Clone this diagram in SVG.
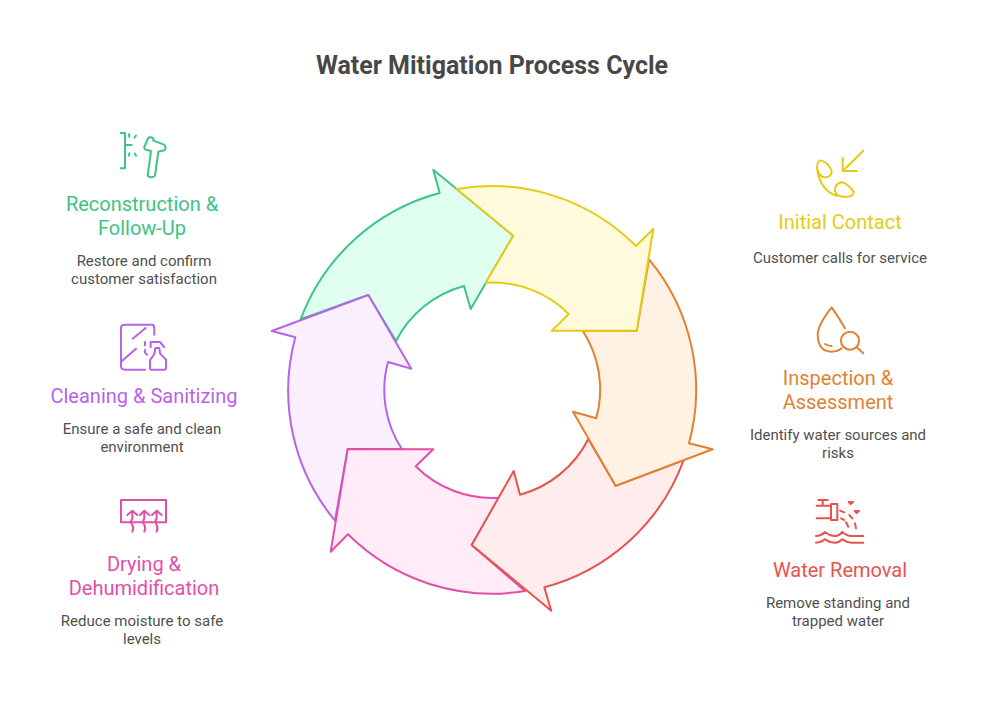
<svg xmlns="http://www.w3.org/2000/svg" width="984" height="720" viewBox="0 0 984 720">
<style>
text{font-family:Roboto,"Liberation Sans",sans-serif;text-anchor:middle}
.t{font-size:25px;font-weight:700;fill:#484848}
.h{font-size:20px;font-weight:400}
.b{font-size:15px;fill:#505050}
.a{stroke-width:2;stroke-linejoin:round}
.i{fill:none;stroke-width:6;stroke-linecap:round;stroke-linejoin:round}
.y{fill:#fffadc;stroke:#e3cc13}.yt{fill:#e3cc13}.yi{stroke:#e3cc13}
.o{fill:#fff1e4;stroke:#e2812f}.ot{fill:#e2812f}.oi{stroke:#e2812f}
.r{fill:#ffeded;stroke:#e5534f}.rt{fill:#e5534f}.ri{stroke:#e5534f}
.p{fill:#ffecf7;stroke:#e24fa8}.pt{fill:#e24fa8}.pi{stroke:#e24fa8}
.v{fill:#f9efff;stroke:#b763e8}.vt{fill:#b763e8}.vi{stroke:#b763e8}
.g{fill:#e0fff0;stroke:#3cc583}.gt{fill:#3cc583}.gi{stroke:#3cc583}
</style>
<text class="t" x="492" y="74">Water Mitigation Process Cycle</text>
<g id="connectors">
<path class="a g" d="M300.7 319.3A204 204 0 0 1 439.7 193L433.3 169.7L513.3 235.7L470.7 309L464 286A108 108 0 0 0 396 341L368.3 295Z"/>
<path class="a v" d="M335 520.7A204 204 0 0 1 295.3 337.3L271.7 331L368.3 295L411.3 368.7L388 362A108 108 0 0 0 402 449.3L347.7 449Z"/>
<path class="a p" d="M525 591A204 204 0 0 1 348 534.3L330.7 551.7L347.7 449L433.3 449.3L415.7 466.3A108 108 0 0 0 499.3 497.7L471.7 545Z"/>
<path class="a r" d="M683.7 460A204 204 0 0 1 544.3 587.3L551.3 610.7L471.7 545L513.7 471L520 494.7A108 108 0 0 0 588.3 439L615.7 485.7Z"/>
<path class="a o" d="M649 259.3A204 204 0 0 1 689 443.3L712.7 449.3L615.7 485.7L573 411.7L596.3 418.3A108 108 0 0 0 582.7 330.7L636.7 330.7Z"/>
<path class="a y" d="M456.7 189A204 204 0 0 1 636 246L653.3 229L636.7 330.7L551.7 330.7L568.7 314A108 108 0 0 0 485.7 282.7L513.3 235.7Z"/>
</g>
<g id="node-initial-contact">
<g class="i yi" transform="translate(805 145) scale(.3333)"><path d="M175 17L113 78M113 38V78H155"/><path d="M36 70Q36 45 50 47Q72 55 80 78Q80 97 60 97Q42 97 36 70Q45 135 95 153"/><path d="M90 140Q88 118 108 112Q125 112 146 140Q148 153 125 155Q98 158 90 140Z"/></g>
<text class="h yt" x="840" y="229">Initial Contact</text>
<text class="b" x="840" y="263">Customer calls for service</text>
</g>
<g id="node-inspection">
<g class="i oi" transform="translate(805 300) scale(.3333)"><path d="M120 85Q100 50 80 22Q38 75 38 105Q40 155 80 155Q98 155 110 145"/><path d="M60 132Q70 138 80 138"/><circle cx="135" cy="122" r="27"/><path d="M155 142L175 160"/></g>
<text class="h ot" x="838" y="385">Inspection &amp;</text>
<text class="h ot" x="838" y="409">Assessment</text>
<text class="b" x="838" y="440">Identify water sources and</text>
<text class="b" x="838" y="458">risks</text>
</g>
<g id="node-water-removal">
<g class="i ri" transform="translate(805 490) scale(.3333)"><path d="M40 30H68M53 30V47M35 47H78M35 85H78"/><rect x="78" y="42" width="19" height="48"/><path d="M105 62L118 67M133 75L142 85M108 85L117 90M123 97L130 110M150 100L153 115"/><path d="M131 36L137 42L144 36ZM149 63L155 69L162 63Z"/><path d="M33 138Q48 138 60 126Q75 138 90 138Q102 138 112 126Q125 138 140 138Q150 138 175 138"/><path d="M33 158Q48 158 60 148Q75 158 90 158Q102 158 112 148Q125 158 140 158Q150 158 175 158"/></g>
<text class="h rt" x="840" y="577">Water Removal</text>
<text class="b" x="838" y="608">Remove standing and</text>
<text class="b" x="838" y="626">trapped water</text>
</g>
<g id="node-drying">
<g class="i pi" transform="translate(110 490) scale(.3333)"><rect x="33" y="30" width="135" height="67"/><path d="M52 75L67 62L82 75M67 62V85Q60 95 67 105Q72 115 67 125"/><path d="M90 75L103 62L118 75M103 62V85Q96 95 103 105Q108 115 103 125"/><path d="M126 75L140 62L155 75M140 62V85Q133 95 140 105Q145 115 140 125"/></g>
<text class="h pt" x="144" y="571">Drying &amp;</text>
<text class="h pt" x="144" y="595">Dehumidification</text>
<text class="b" x="142" y="626">Reduce moisture to safe</text>
<text class="b" x="142" y="644">levels</text>
</g>
<g id="node-cleaning">
<g class="i vi" transform="translate(110 318) scale(.3333)"><path d="M105 155H45Q33 155 33 145V30Q33 20 45 20H125Q133 20 133 30V50"/><path d="M107 30L68 62M78 92L35 130M105 72V82M105 95Q102 105 112 110"/><path d="M124 155Q120 155 120 150V127L133 108L136 90H148L150 106L168 125V150Q168 155 162 155Z"/><path d="M122 88V72H150L163 88"/></g>
<text class="h vt" x="144" y="403">Cleaning &amp; Sanitizing</text>
<text class="b" x="142" y="434">Ensure a safe and clean</text>
<text class="b" x="142" y="452">environment</text>
</g>
<g id="node-reconstruction">
<g class="i gi" transform="translate(110 125) scale(.3333)"><path d="M32 24H45V130H32M45 60H65M57 28L58 36M78 32L73 38M57 92L58 85M78 92L75 86"/><path d="M103 66L114 40Q120 34 130 40V47L160 58Q170 64 165 75L145 80L135 152Q125 162 113 152L123 78L108 74Q102 72 103 66Z"/></g>
<text class="h gt" x="142" y="211">Reconstruction &amp;</text>
<text class="h gt" x="142" y="235">Follow-Up</text>
<text class="b" x="144" y="266">Restore and confirm</text>
<text class="b" x="144" y="284">customer satisfaction</text>
</g>
</svg>
